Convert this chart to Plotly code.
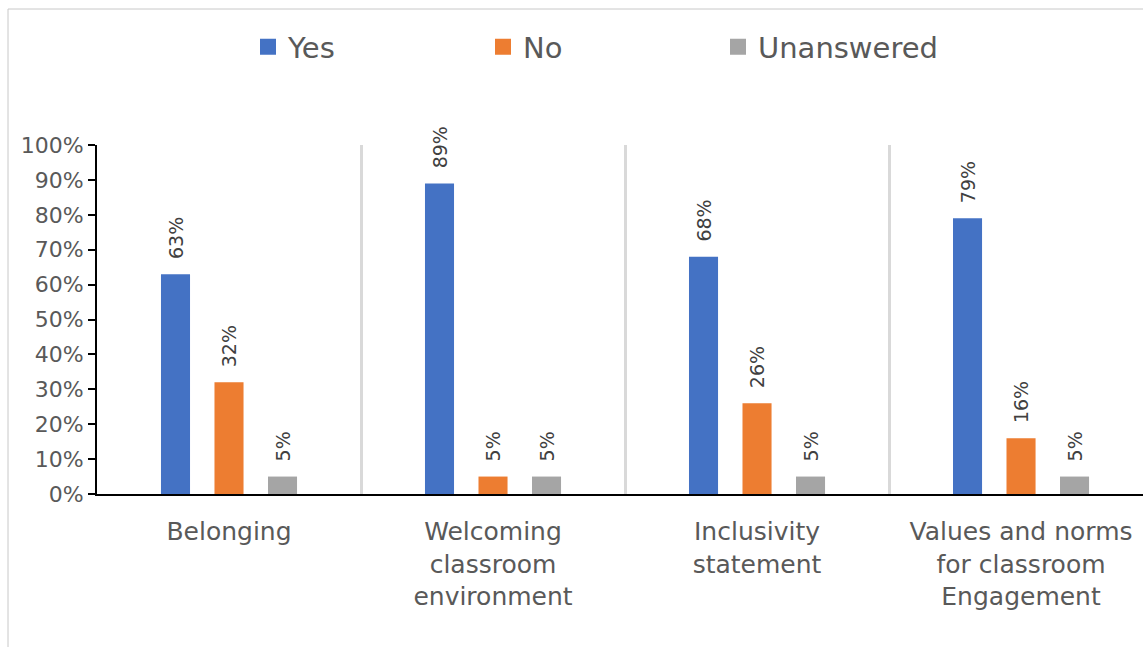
import plotly.graph_objects as go

# Survey results per course-design element
categories = [
    "Belonging",
    "Welcoming<br>classroom<br>environment",
    "Inclusivity<br>statement",
    "Values and norms<br>for classroom<br>Engagement",
]
series_names = ["Yes", "No", "Unanswered"]
yes_values = [0.63, 0.89, 0.68, 0.79]
no_values = [0.32, 0.05, 0.26, 0.16]
unanswered_values = [0.05, 0.05, 0.05, 0.05]
series_colors = ["#4472C4", "#ED7D31", "#A5A5A5"]
y_tick_values = [0, 0.1, 0.2, 0.3, 0.4, 0.5, 0.6, 0.7, 0.8, 0.9, 1.0]

W, H = 1143, 647
ML, MR, MT, MB = 97, 0, 145, 153
FONT = "DejaVu Sans"
TEXT_GRAY = "#595959"


def paper_x(px):
    return (px - ML) / (W - ML - MR)


def paper_y(py):
    return (H - MB - py) / (H - MT - MB)


fig = go.Figure()

for name, vals, col in zip(series_names, [yes_values, no_values, unanswered_values], series_colors):
    fig.add_trace(go.Bar(
        x=categories,
        y=vals,
        name=name,
        legendgroup=name,
        showlegend=False,
        marker=dict(color=col, line=dict(width=0)),
        texttemplate="\u00a0\u00a0%{y:.0%}",
        textposition="outside",
        textangle=-90,
        constraintext="none",
        cliponaxis=False,
        textfont=dict(family=FONT, size=19, color="#404040"),
        hoverinfo="skip",
    ))

# square legend keys
for name, col in zip(series_names, series_colors):
    fig.add_trace(go.Scatter(
        x=[None], y=[None],
        mode="markers",
        name=name,
        legendgroup=name,
        marker=dict(symbol="square", size=16, color=col),
    ))

# light frame around the chart area
fig.add_shape(
    type="rect", xref="paper", yref="paper",
    x0=paper_x(8), x1=paper_x(W + 20), y0=paper_y(H + 20), y1=paper_y(9),
    line=dict(color="#c8c8c8", width=1), fillcolor="rgba(0,0,0,0)", layer="below",
)

fig.update_layout(
    width=W, height=H,
    margin=dict(l=ML, r=MR, t=MT, b=MB, pad=0),
    paper_bgcolor="white",
    plot_bgcolor="white",
    barmode="group",
    bargap=0.392,
    bargroupgap=0.457,
    font=dict(family=FONT, color=TEXT_GRAY),
    showlegend=True,
    legend=dict(
        orientation="h",
        x=paper_x(248), xanchor="left",
        y=paper_y(47), yanchor="middle",
        font=dict(family=FONT, size=29, color=TEXT_GRAY),
        entrywidth=190, entrywidthmode="pixels",
        itemsizing="trace",
        bgcolor="rgba(0,0,0,0)",
        borderwidth=0,
    ),
    xaxis=dict(
        type="category",
        range=[-0.5, 3.462],
        showline=True, linecolor="black", linewidth=2,
        ticks="",
        tickson="boundaries",
        showgrid=True, gridcolor="#d9d9d9", gridwidth=3,
        tickfont=dict(family=FONT, size=25, color=TEXT_GRAY),
        ticklabelstandoff=14,
        fixedrange=True,
    ),
    yaxis=dict(
        range=[0, 1],
        tickvals=y_tick_values,
        tickformat=".0%",
        showline=True, linecolor="black", linewidth=2,
        ticks="outside", ticklen=7, tickwidth=2, tickcolor="black",
        showgrid=False, zeroline=False,
        tickfont=dict(family=FONT, size=22, color=TEXT_GRAY),
        fixedrange=True,
    ),
)

fig.write_html("out.html")
